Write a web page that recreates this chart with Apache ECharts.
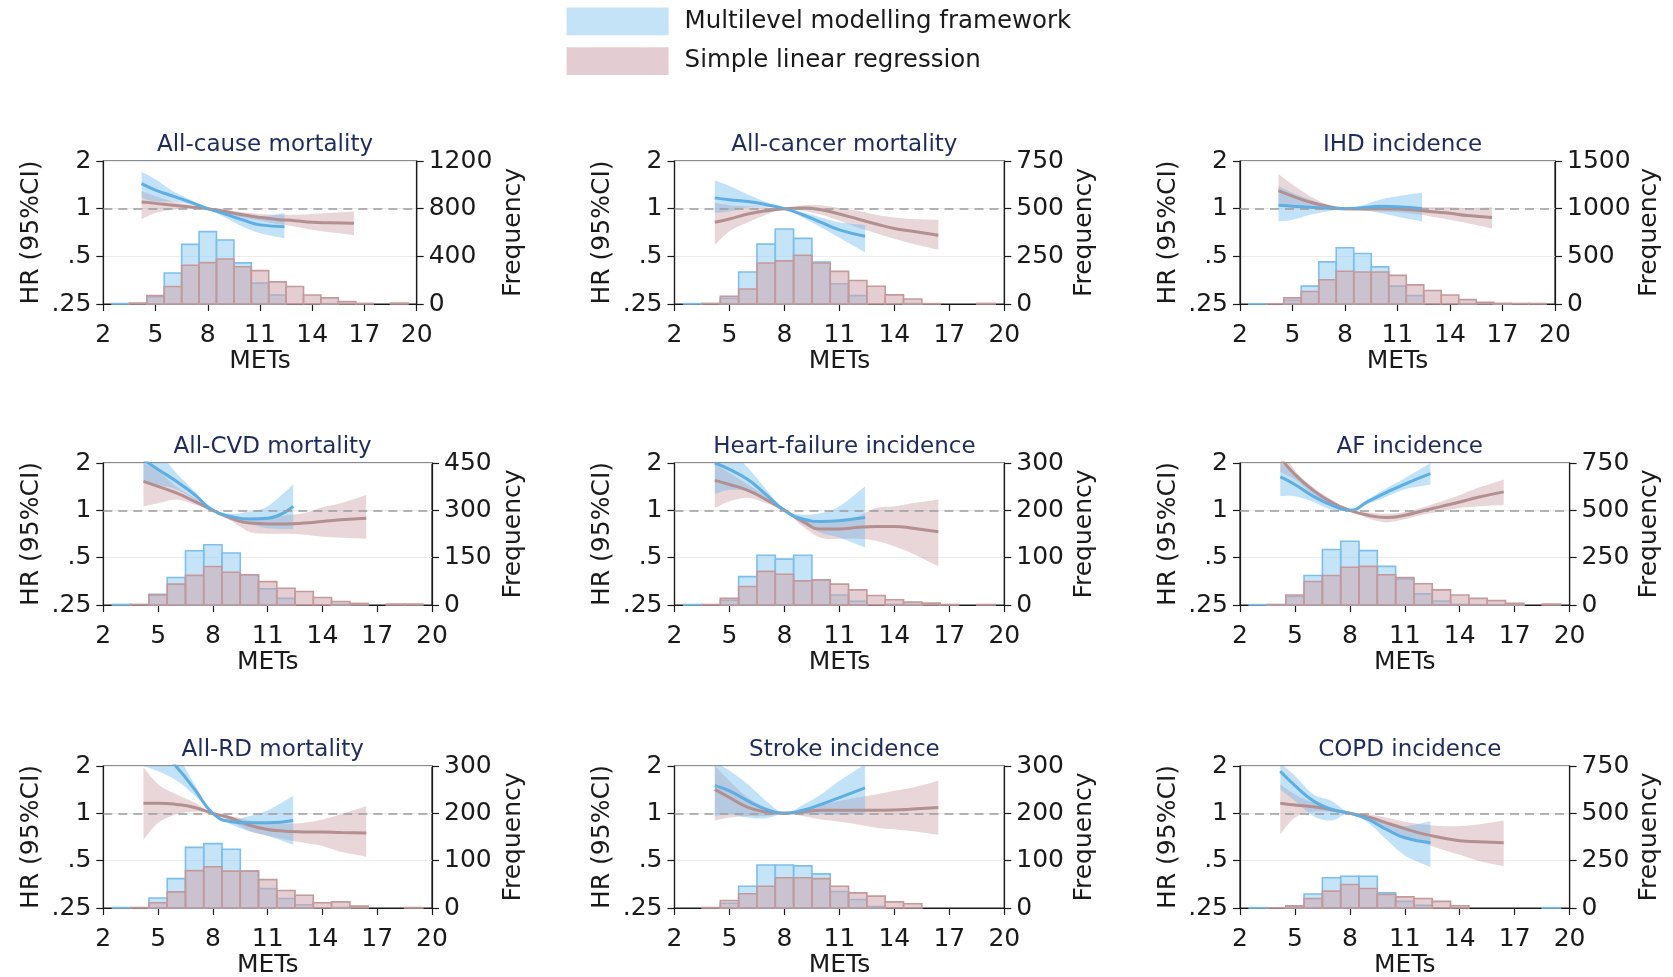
<!DOCTYPE html>
<html>
<head>
<meta charset="utf-8">
<title>METs and hazard ratios</title>
<script src="https://cdn.jsdelivr.net/npm/echarts@6/dist/echarts.min.js"></script>
<style>
  html, body { margin: 0; padding: 0; background: #ffffff; }
  #chart { width: 1673px; height: 977px; }
</style>
</head>
<body>
<div id="chart"></div>
<script>
// ---------------------------------------------------------------------------
// Data
// ---------------------------------------------------------------------------
const ML_NAME = 'Multilevel modelling framework';
const LR_NAME = 'Simple linear regression';

const outcomes = [
  'All-cause mortality', 'All-cancer mortality', 'IHD incidence',
  'All-CVD mortality', 'Heart-failure incidence', 'AF incidence',
  'All-RD mortality', 'Stroke incidence', 'COPD incidence'
];

// Upper limit of the frequency axis for each outcome
const freqMax = [1200, 750, 1500, 450, 300, 750, 300, 300, 750];

// METs at which each curve is evaluated
const metsML = [4.2, 5, 6, 7, 8, 9, 10, 11, 12.4];
const metsLR = [4.2, 5, 6, 7, 8, 9, 10, 11, 12, 13, 14, 15, 16.4];

// Multilevel modelling framework: HR with lower / upper 95% CI
const hrML = [
  [1.44, 1.31, 1.20, 1.10, 1, 0.925, 0.85, 0.79, 0.77],
  [1.17, 1.14, 1.11, 1.06, 1, 0.915, 0.82, 0.735, 0.67],
  [1.05, 1.035, 1.02, 1.005, 1, 1.015, 1.035, 1.03, 1.0],
  [2.1, 1.82, 1.53, 1.26, 1, 0.915, 0.88, 0.89, 1.06],
  [2.0, 1.82, 1.57, 1.26, 1, 0.88, 0.85, 0.86, 0.90],
  [1.63, 1.46, 1.23, 1.08, 1, 1.14, 1.30, 1.47, 1.71],
  [2.9, 2.55, 1.98, 1.42, 1, 0.885, 0.87, 0.87, 0.90],
  [1.50, 1.39, 1.20, 1.06, 1, 1.045, 1.14, 1.26, 1.45],
  [1.85, 1.50, 1.20, 1.06, 1, 0.915, 0.79, 0.70, 0.65]
];
const loML = [
  [1.17, 1.11, 1.11, 1.06, 1, 0.88, 0.77, 0.70, 0.65],
  [0.94, 0.96, 1.02, 1.02, 1, 0.88, 0.76, 0.655, 0.53],
  [0.83, 0.85, 0.915, 0.96, 1, 0.98, 0.94, 0.89, 0.83],
  [1.50, 1.45, 1.36, 1.17, 1, 0.88, 0.82, 0.77, 0.76],
  [1.27, 1.35, 1.32, 1.17, 1, 0.82, 0.72, 0.67, 0.58],
  [1.23, 1.23, 1.13, 1.01, 1, 1.10, 1.22, 1.36, 1.46],
  [2.0, 1.85, 1.62, 1.30, 1, 0.85, 0.77, 0.72, 0.63],
  [0.96, 0.985, 0.94, 0.93, 1, 0.985, 0.985, 0.985, 0.995],
  [1.42, 1.20, 0.96, 0.90, 1, 0.87, 0.68, 0.54, 0.455]
];
const hiML = [
  [1.71, 1.53, 1.29, 1.14, 1, 0.96, 0.915, 0.89, 0.94],
  [1.51, 1.39, 1.23, 1.10, 1, 0.95, 0.88, 0.82, 0.79],
  [1.39, 1.26, 1.14, 1.05, 1, 1.05, 1.14, 1.20, 1.26],
  [3.2, 2.4, 1.73, 1.32, 1, 0.95, 0.985, 1.06, 1.46],
  [3.0, 2.4, 1.87, 1.36, 1, 0.94, 0.96, 1.06, 1.42],
  [2.0, 1.69, 1.32, 1.11, 1, 1.18, 1.38, 1.60, 2.0],
  [4.3, 3.5, 2.4, 1.53, 1, 0.915, 0.96, 1.045, 1.29],
  [2.1, 1.87, 1.53, 1.20, 1, 1.13, 1.32, 1.61, 2.05],
  [2.1, 1.73, 1.32, 1.20, 1, 0.95, 0.87, 0.83, 0.89]
];

// Simple linear regression: HR with lower / upper 95% CI
const hrLR = [
  [1.10, 1.08, 1.05, 1.025, 1, 0.96, 0.915, 0.88, 0.855, 0.84, 0.82, 0.815, 0.81],
  [0.82, 0.86, 0.925, 0.97, 1, 1.01, 0.985, 0.925, 0.86, 0.80, 0.75, 0.72, 0.68],
  [1.30, 1.20, 1.10, 1.035, 1, 0.995, 1.0, 0.995, 0.98, 0.955, 0.935, 0.905, 0.88],
  [1.53, 1.42, 1.29, 1.14, 1, 0.89, 0.83, 0.82, 0.82, 0.83, 0.85, 0.87, 0.89],
  [1.55, 1.46, 1.34, 1.17, 1, 0.85, 0.76, 0.76, 0.78, 0.79, 0.79, 0.77, 0.73],
  [2.15, 1.69, 1.34, 1.125, 1, 0.93, 0.90, 0.93, 0.995, 1.06, 1.13, 1.21, 1.31],
  [1.16, 1.16, 1.14, 1.09, 1, 0.93, 0.84, 0.79, 0.77, 0.76, 0.76, 0.755, 0.75],
  [1.42, 1.26, 1.09, 1.02, 1, 1.025, 1.045, 1.045, 1.045, 1.045, 1.05, 1.065, 1.09],
  [1.16, 1.13, 1.10, 1.055, 1, 0.95, 0.87, 0.80, 0.74, 0.70, 0.67, 0.66, 0.65]
];
const loLR = [
  [0.86, 0.94, 0.985, 1.0, 1, 0.94, 0.88, 0.84, 0.80, 0.77, 0.735, 0.71, 0.68],
  [0.59, 0.72, 0.82, 0.915, 1, 0.97, 0.915, 0.84, 0.76, 0.70, 0.645, 0.60, 0.55],
  [1.035, 1.035, 1.02, 1.01, 1, 0.975, 0.96, 0.95, 0.925, 0.89, 0.85, 0.81, 0.75],
  [1.06, 1.11, 1.17, 1.09, 1, 0.86, 0.73, 0.71, 0.71, 0.70, 0.68, 0.67, 0.66],
  [1.035, 1.14, 1.20, 1.11, 1, 0.79, 0.67, 0.66, 0.66, 0.64, 0.59, 0.53, 0.44],
  [1.75, 1.57, 1.26, 1.08, 1, 0.89, 0.84, 0.88, 0.94, 0.985, 1.035, 1.06, 1.08],
  [0.68, 0.87, 0.985, 1.025, 1, 0.89, 0.77, 0.72, 0.68, 0.65, 0.62, 0.57, 0.53],
  [0.90, 0.94, 0.96, 0.96, 1, 0.96, 0.915, 0.885, 0.85, 0.81, 0.79, 0.77, 0.73],
  [0.735, 0.94, 1.025, 1.025, 1, 0.91, 0.80, 0.715, 0.65, 0.59, 0.545, 0.50, 0.46]
];
const hiLR = [
  [1.29, 1.20, 1.11, 1.05, 1, 0.98, 0.95, 0.925, 0.915, 0.915, 0.925, 0.94, 0.96],
  [1.09, 1.05, 1.035, 1.02, 1, 1.05, 1.05, 1.01, 0.97, 0.915, 0.88, 0.86, 0.85],
  [1.65, 1.42, 1.20, 1.06, 1, 1.015, 1.035, 1.035, 1.03, 1.02, 1.02, 1.01, 1.02],
  [2.0, 1.78, 1.42, 1.20, 1, 0.93, 0.88, 0.90, 0.93, 0.96, 1.045, 1.11, 1.25],
  [1.96, 1.73, 1.46, 1.23, 1, 0.90, 0.85, 0.86, 0.915, 1.035, 1.06, 1.11, 1.17],
  [2.6, 1.79, 1.40, 1.17, 1, 0.97, 0.95, 0.975, 1.045, 1.14, 1.25, 1.39, 1.57],
  [1.96, 1.53, 1.32, 1.17, 1, 0.96, 0.90, 0.86, 0.86, 0.87, 0.915, 0.985, 1.11],
  [2.0, 1.61, 1.26, 1.09, 1, 1.06, 1.14, 1.20, 1.26, 1.32, 1.39, 1.46, 1.61],
  [1.53, 1.32, 1.17, 1.09, 1, 0.985, 0.94, 0.885, 0.85, 0.83, 0.83, 0.85, 0.90]
];

// Histogram of METs (bins one MET wide, centred on these values)
const binCentres = [3, 4, 5, 6, 7, 8, 9, 10, 11, 12, 13, 14, 15, 16, 17, 18, 19];
const freqML = [
  [4, 0, 60, 260, 500, 607, 537, 345, 175, 76, 0, 0, 3, 0, 0, 0, 0],
  [2, 0, 30, 168, 314, 393, 344, 220, 106, 44, 0, 0, 2, 0, 0, 0, 0],
  [3, 0, 40, 187, 442, 590, 530, 389, 187, 88, 0, 0, 3, 0, 2, 0, 0],
  [2, 0, 34, 87, 172, 191, 165, 96, 51, 21, 0, 0, 2, 0, 0, 0, 0],
  [1, 0, 10, 60, 105, 97, 105, 53, 21, 8, 0, 1, 1, 0, 0, 0, 0],
  [2, 2, 45, 156, 293, 337, 287, 204, 138, 59, 21, 3, 2, 2, 2, 0, 0],
  [1, 0, 21, 62, 128, 136, 124, 78, 41, 20, 7, 0, 1, 0, 0, 0, 0],
  [0, 0, 10, 46, 91, 91, 89, 72, 35, 18, 3, 0, 0, 0, 0, 0, 0],
  [2, 0, 8, 74, 160, 168, 168, 80, 35, 14, 0, 0, 0, 0, 0, 0, 2]
];
const freqLR = [
  [0, 8, 70, 147, 325, 347, 378, 313, 280, 186, 147, 76, 51, 20, 5, 0, 8],
  [0, 3, 41, 79, 215, 226, 256, 215, 171, 123, 93, 48, 26, 2, 0, 0, 3],
  [0, 2, 64, 131, 254, 343, 336, 336, 300, 201, 141, 95, 46, 18, 7, 5, 5],
  [0, 2, 32, 66, 94, 122, 104, 96, 74, 53, 43, 24, 11, 5, 0, 3, 3],
  [0, 1, 14, 39, 71, 65, 51, 53, 44, 32, 20, 11, 6, 4, 1, 0, 1],
  [0, 2, 53, 124, 156, 199, 204, 160, 145, 112, 80, 53, 35, 23, 9, 0, 5],
  [0, 1, 11, 34, 79, 87, 78, 78, 60, 37, 27, 11, 13, 4, 0, 0, 1],
  [0, 1, 16, 30, 46, 64, 64, 62, 46, 32, 25, 13, 9, 0, 0, 0, 0],
  [0, 1, 12, 50, 89, 124, 103, 71, 59, 50, 35, 12, 0, 0, 0, 0, 0]
];

// Axis ticks
const metTicks = [2, 5, 8, 11, 14, 17, 20];
const hrMin = 0.25, hrMax = 2;

// ---------------------------------------------------------------------------
// Layout and styling
// ---------------------------------------------------------------------------
const FONT = '"DejaVu Sans", "Liberation Sans", sans-serif';
const INK = '#1a1a1a';
const TITLE_INK = '#1f2b5c';
const TICK_SIZE = 25;
const NAME_SIZE = 25;

const colLeft = [103.3, 674.5, 1240];
const colRight = [
  [416.7, 1004.3, 1555],
  [432, 1004.3, 1569.6],
  [432, 1004.3, 1569.6]
];
const rowTop = [161, 463, 766];
const rowBottom = [304, 605, 908];
const hrNameX = [28.8, 599.6, 1166];
const freqNameX = [514, 1085, 1649.5];
const titleY = [143, 445, 748];

const STYLE = {
  ml: {
    line: '#5eaee3', band: 'rgba(110,185,236,0.42)',
    barFill: 'rgba(150,205,242,0.55)', barStroke: '#7dbfe9', legend: '#c5e3f7'
  },
  lr: {
    line: '#b48f90', band: 'rgba(192,142,150,0.36)',
    barFill: 'rgba(205,165,172,0.55)', barStroke: '#c39a9c', legend: '#e3cdd2'
  }
};

function hrLabel(v) {
  const r = Math.round(v * 100) / 100;
  return r < 1 ? String(r).replace(/^0/, '') : String(r);
}

// Catmull-Rom spline through pixel points, sampled for drawing a smooth edge
function smoothEdge(pts) {
  const out = [];
  const n = pts.length;
  const STEPS = 10;
  for (let i = 0; i < n - 1; i++) {
    const p0 = pts[Math.max(i - 1, 0)], p1 = pts[i];
    const p2 = pts[i + 1], p3 = pts[Math.min(i + 2, n - 1)];
    for (let s = 0; s < STEPS; s++) {
      const t = s / STEPS, t2 = t * t, t3 = t2 * t;
      const f = (a, b, c, d) => 0.5 * ((2 * b) + (-a + c) * t +
        (2 * a - 5 * b + 4 * c - d) * t2 + (-a + 3 * b - 3 * c + d) * t3);
      out.push([f(p0[0], p1[0], p2[0], p3[0]), f(p0[1], p1[1], p2[1], p3[1])]);
    }
  }
  out.push(pts[n - 1].slice());
  return out;
}

function histSeries(name, counts, gi, st) {
  const data = binCentres.map((c, k) => [c, counts[k]]).filter(d => d[1] > 0);
  return {
    name, type: 'custom', xAxisIndex: gi, yAxisIndex: 2 * gi + 1,
    coordinateSystem: 'cartesian2d', silent: true, z: 1,
    itemStyle: { color: st.barFill, borderWidth: 0 },
    encode: { x: 0, y: 1 },
    data,
    renderItem(params, api) {
      const c = api.value(0), n = api.value(1);
      const tl = api.coord([c - 0.5, n]);
      const br = api.coord([c + 0.5, 0]);
      return {
        type: 'rect',
        shape: { x: tl[0], y: tl[1], width: br[0] - tl[0], height: br[1] - tl[1] },
        style: { fill: st.barFill, stroke: st.barStroke, lineWidth: 1.6 }
      };
    }
  };
}

// 95% CI band: one filled shape between the lower and upper limits
function bandSeries(name, xs, lo, hi, gi, st) {
  const rows = xs.map((x, k) => [x, lo[k], hi[k]]);
  return {
    name, type: 'custom', xAxisIndex: gi, yAxisIndex: 2 * gi,
    coordinateSystem: 'cartesian2d', silent: true, z: 2,
    itemStyle: { color: st.band },
    encode: { x: 0, y: [1, 2] },
    data: rows,
    renderItem(params, api) {
      if (params.dataIndex !== 0) return null;
      const upper = smoothEdge(rows.map(r => api.coord([r[0], r[2]])));
      const lower = smoothEdge(rows.map(r => api.coord([r[0], r[1]]))).reverse();
      const cs = params.coordSys;
      return {
        type: 'group',
        clipPath: { type: 'rect', shape: { x: cs.x, y: cs.y, width: cs.width, height: cs.height } },
        children: [{
          type: 'polygon',
          shape: { points: upper.concat(lower) },
          style: { fill: st.band }
        }]
      };
    }
  };
}

function curveSeries(name, xs, hr, gi, st, withRefLine) {
  const s = {
    name, type: 'line', xAxisIndex: gi, yAxisIndex: 2 * gi,
    smooth: true, symbol: 'none', silent: true, z: 3,
    lineStyle: { color: st.line, width: 3 },
    itemStyle: { color: st.line },
    data: xs.map((x, k) => [x, hr[k]])
  };
  if (withRefLine) {
    s.markLine = {
      silent: true, symbol: 'none', label: { show: false },
      lineStyle: { type: [9, 6], color: '#9c9c9c', width: 1.6 },
      data: [{ yAxis: 1 }]
    };
  }
  return s;
}

const grids = [], xAxes = [], yAxes = [], titles = [], series = [];

outcomes.forEach((outcome, i) => {
  const row = Math.floor(i / 3), col = i % 3;
  const left = colLeft[col], right = colRight[row][col];
  const top = rowTop[row], bottom = rowBottom[row];

  grids.push({
    left, top, width: right - left, height: bottom - top,
    show: true, borderColor: INK, borderWidth: 1.2, backgroundColor: 'transparent',
    outerBoundsMode: 'none'
  });

  titles.push({
    text: outcome, left: (left + right) / 2, top: titleY[row] - 14,
    textAlign: 'center',
    textStyle: { fontFamily: FONT, fontSize: 23, fontWeight: 'normal', color: TITLE_INK }
  });

  xAxes.push({
    gridIndex: i, type: 'value', min: 2, max: 20,
    name: 'METs', nameLocation: 'middle', nameGap: 45,
    nameTextStyle: { fontFamily: FONT, fontSize: NAME_SIZE, color: INK },
    axisLine: { show: true, lineStyle: { color: INK, width: 1.2 } },
    axisTick: { show: true, length: 7, lineStyle: { color: INK, width: 1.2 }, customValues: metTicks },
    axisLabel: { fontFamily: FONT, fontSize: TICK_SIZE, color: INK, margin: 19, customValues: metTicks },
    splitLine: { show: false }
  });

  yAxes.push({
    gridIndex: i, type: 'log', logBase: 2, min: hrMin, max: hrMax, position: 'left',
    name: 'HR (95%CI)', nameLocation: 'middle', nameRotate: 90,
    nameGap: left - hrNameX[col] - 15,
    nameTextStyle: { fontFamily: FONT, fontSize: NAME_SIZE, color: INK },
    axisLine: { show: true, lineStyle: { color: INK, width: 1.2 } },
    axisTick: { show: true, length: 7, lineStyle: { color: INK, width: 1.2 } },
    axisLabel: { fontFamily: FONT, fontSize: TICK_SIZE, color: INK, margin: 12, formatter: hrLabel },
    splitLine: { show: true, lineStyle: { color: '#ececec', width: 1 } },
    minorTick: { show: false }
  });

  yAxes.push({
    gridIndex: i, type: 'value', min: 0, max: freqMax[i], interval: freqMax[i] / 3,
    position: 'right',
    name: 'Frequency', nameLocation: 'middle', nameRotate: 90,
    nameGap: freqNameX[col] - right - 13,
    nameTextStyle: { fontFamily: FONT, fontSize: NAME_SIZE, color: INK },
    axisLine: { show: true, lineStyle: { color: INK, width: 1.2 } },
    axisTick: { show: true, length: 7, lineStyle: { color: INK, width: 1.2 } },
    axisLabel: { fontFamily: FONT, fontSize: TICK_SIZE, color: INK, margin: 12, formatter: v => String(v) },
    splitLine: { show: false }
  });

  // histograms: multilevel underneath, simple regression on top
  series.push(histSeries(ML_NAME, freqML[i], i, STYLE.ml));
  series.push(histSeries(LR_NAME, freqLR[i], i, STYLE.lr));
  // confidence bands
  series.push(bandSeries(LR_NAME, metsLR, loLR[i], hiLR[i], i, STYLE.lr));
  series.push(bandSeries(ML_NAME, metsML, loML[i], hiML[i], i, STYLE.ml));
  // point estimates, with the dashed HR = 1 reference
  series.push(curveSeries(LR_NAME, metsLR, hrLR[i], i, STYLE.lr, true));
  series.push(curveSeries(ML_NAME, metsML, hrML[i], i, STYLE.ml, false));
});

const chart = echarts.init(document.getElementById('chart'), null, { renderer: 'canvas' });
chart.setOption({
  animation: false,
  backgroundColor: '#ffffff',
  title: titles,
  legend: {
    orient: 'vertical', left: 566.6, top: 7.5, padding: 0,
    itemWidth: 102, itemHeight: 27.7, itemGap: 12, icon: 'rect',
    itemStyle: { borderWidth: 0 },
    textStyle: { fontFamily: FONT, fontSize: 24.5, color: INK, padding: [0, 0, 0, 11] },
    data: [
      { name: ML_NAME, itemStyle: { color: STYLE.ml.legend, borderWidth: 0 } },
      { name: LR_NAME, itemStyle: { color: STYLE.lr.legend, borderWidth: 0 } }
    ]
  },
  grid: grids,
  xAxis: xAxes,
  yAxis: yAxes,
  series
});
</script>
</body>
</html>
